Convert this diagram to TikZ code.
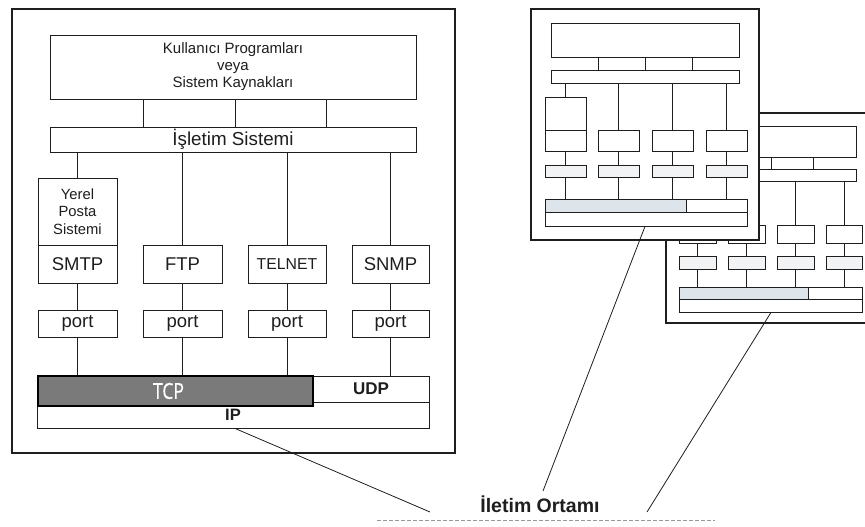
\documentclass[tikz,border=0pt]{standalone}
\usepackage{fontspec}
\setmainfont{Liberation Sans}
\newfontfamily\tcpfont[FakeBold=0.6]{Open Sans}
\definecolor{ink}{HTML}{1E1E1E}
\definecolor{lightfill}{HTML}{DDE4EA}
\definecolor{portfill}{HTML}{F1F3F5}
\definecolor{tcpgray}{HTML}{7A7A7A}
\begin{document}
\begin{tikzpicture}[x=1pt,y=-1pt,
  box/.style={draw=ink, line width=0.9pt, fill=white, inner sep=0pt, align=center, text=ink},
  sz/.style 2 args={minimum width=#1pt, minimum height=#2pt},
  wire/.style={draw=ink, line width=0.8pt},
  frame/.style={draw=ink, line width=1.5pt, fill=white, inner sep=0pt},
  big/.style={font=\fontsize{18.5}{20}\selectfont},
  mini/.style={box, line width=0.8pt},
]
\useasboundingbox (0,0) rectangle (865,527);
\clip (0,0) rectangle (865,527);
\fill[white] (0,0) rectangle (865,527);

% ---------- host on the left ----------
\node[frame, sz={443}{444}] (host) at (233.5,231) {};
\node[box, sz={366}{64}, font=\fontsize{15}{17}\selectfont] (kp) at (233,67)
  {Kullanıcı Programları\\veya\\Sistem Kaynakları};
\node[box, sz={366}{25}, font=\fontsize{18.8}{20}\selectfont] (os) at (233,139.5) {İşletim Sistemi};
\coordinate (k1) at (143,0);
\coordinate (k2) at (235,0);
\coordinate (k3) at (326,0);
\foreach \k in {k1,k2,k3} \draw[wire] (kp.south -| \k) -- (os.north -| \k);

\node[box, sz={79}{67}, font=\fontsize{14.8}{17.5}\selectfont] (yps) at (77.5,211.5) {Yerel\\Posta\\Sistemi};
\node[box, sz={79}{38}, big] (smtp) at (77.5,264) {SMTP};
\node[box, sz={79}{38}, big] (ftp) at (182.5,264) {FTP};
\node[box, sz={78}{38}, font=\fontsize{15.8}{18}\selectfont] (telnet) at (287,264) {TELNET};
\node[box, sz={77}{38}, big] (snmp) at (390.5,264) {SNMP};

\node[box, sz={79}{27}, big] (p1) at (77.5,323.5) {port};
\node[box, sz={79}{27}, big] (p2) at (182.5,323.5) {port};
\node[box, sz={78}{27}, big] (p3) at (287,323.5) {port};
\node[box, sz={77}{27}, big] (p4) at (390.5,323.5) {port};

\node[box, sz={392}{26}, font=\bfseries\fontsize{16.5}{18}\selectfont] (ip) at (233,415) {IP};
\node[box, sz={116}{26}, font=\bfseries\fontsize{17}{18}\selectfont] (udp) at (371,389) {UDP};
\node[box, sz={275}{30}, fill=tcpgray, draw=black, line width=1.6pt, text=white,
      font=\tcpfont\fontsize{22}{22}\selectfont] (tcp) at (175.5,391)
  {\scalebox{0.8}[1]{TCP}\hspace*{14pt}};

\draw[wire] (os.south -| yps.north) -- (yps.north);
\foreach \b in {ftp,telnet,snmp} \draw[wire] (os.south -| \b.north) -- (\b.north);
\draw[wire] (smtp.south) -- (p1.north);
\draw[wire] (ftp.south) -- (p2.north);
\draw[wire] (telnet.south) -- (p3.north);
\draw[wire] (snmp.south) -- (p4.north);
\foreach \p in {p1,p2,p3} \draw[wire] (\p.south) -- (tcp.north -| \p.south);
\draw[wire] (p4.south) -- (udp.north -| p4.south);

% ---------- host at the back, right ----------
\node[frame, sz={234}{210}] (bhost) at (783,218) {};
\node[mini, sz={188}{31}] (btop) at (762,141.5) {};
\node[mini, sz={188}{12}] (bos) at (762,175) {};
\coordinate (bk1) at (725,0);
\coordinate (bk2) at (771,0);
\coordinate (bk3) at (813,0);
\foreach \k in {bk1,bk2,bk3} \draw[wire] (btop.south -| \k) -- (bos.north -| \k);
\node[mini, sz={37}{30}] (by) at (697.5,210) {};
\node[mini, sz={37}{18}] (ba1) at (697.5,234) {};
\node[mini, sz={37}{18}] (ba2) at (746.5,234) {};
\node[mini, sz={37}{18}] (ba3) at (795.5,234) {};
\node[mini, sz={36}{18}] (ba4) at (844,234) {};
\node[mini, sz={37}{13}, fill=portfill] (bp1) at (697.5,262.5) {};
\node[mini, sz={37}{13}, fill=portfill] (bp2) at (746.5,262.5) {};
\node[mini, sz={37}{13}, fill=portfill] (bp3) at (795.5,262.5) {};
\node[mini, sz={36}{13}, fill=portfill] (bp4) at (844,262.5) {};
\node[mini, sz={183}{13}] (bip) at (770.5,305.5) {};
\node[mini, sz={129}{12}, fill=lightfill] (btcp) at (743.5,293) {};
\node[mini, sz={54}{12}] (budp) at (835,293) {};
\draw[wire] (bos.south -| by.north) -- (by.north);
\foreach \b in {ba2,ba3,ba4} \draw[wire] (bos.south -| \b.north) -- (\b.north);
\foreach \a/\p in {ba1/bp1,ba2/bp2,ba3/bp3,ba4/bp4} \draw[wire] (\a.south) -- (\p.north);
\foreach \p in {bp1,bp2,bp3} \draw[wire] (\p.south) -- (btcp.north -| \p.south);
\draw[wire] (bp4.south) -- (budp.north -| bp4.south);

% ---------- host in front, right ----------
\node[frame, line width=1.8pt, sz={228}{231}] (fhost) at (645,124.5) {};
\node[mini, sz={188}{34}] (ftop) at (645,40) {};
\node[mini, sz={188}{13}] (fos) at (645,76.5) {};
\coordinate (fk1) at (598,0);
\coordinate (fk2) at (645,0);
\coordinate (fk3) at (692,0);
\foreach \k in {fk1,fk2,fk3} \draw[wire] (ftop.south -| \k) -- (fos.north -| \k);
\node[mini, sz={41}{33}] (fy) at (565.5,113.5) {};
\node[mini, sz={41}{21}] (fa1) at (565.5,140.5) {};
\node[mini, sz={41}{21}] (fa2) at (618.5,140.5) {};
\node[mini, sz={41}{21}] (fa3) at (672.5,140.5) {};
\node[mini, sz={41}{21}] (fa4) at (726.5,140.5) {};
\node[mini, sz={41}{12}, fill=portfill] (fp1) at (565.5,171) {};
\node[mini, sz={41}{12}, fill=portfill] (fp2) at (618.5,171) {};
\node[mini, sz={41}{12}, fill=portfill] (fp3) at (672.5,171) {};
\node[mini, sz={41}{12}, fill=portfill] (fp4) at (726.5,171) {};
\node[mini, sz={202}{14}] (fip) at (646,219) {};
\node[mini, sz={141}{13}, fill=lightfill] (ftcp) at (615.5,205.5) {};
\node[mini, sz={61}{13}] (fudp) at (716.5,205.5) {};
\draw[wire] (fos.south -| fy.north) -- (fy.north);
\foreach \b in {fa2,fa3,fa4} \draw[wire] (fos.south -| \b.north) -- (\b.north);
\foreach \a/\p in {fa1/fp1,fa2/fp2,fa3/fp3,fa4/fp4} \draw[wire] (\a.south) -- (\p.north);
\foreach \p in {fp1,fp2,fp3} \draw[wire] (\p.south) -- (ftcp.north -| \p.south);
\draw[wire] (fp4.south) -- (fudp.north -| fp4.south);

% ---------- transmission medium ----------
\node[text=ink, font=\bfseries\fontsize{19.5}{21}\selectfont] (medium) at (540,504) {İletim Ortamı};
\coordinate (m1) at (430,512);
\coordinate (m2) at (543,491);
\coordinate (m3) at (647,512);
\coordinate (d1) at (377,520);
\coordinate (d2) at (715,520);
\coordinate (ipx) at (235,0);
\coordinate (fipx) at (645,0);
\coordinate (bipx) at (771,0);
\draw[wire] (ip.south -| ipx) -- (m1);
\draw[wire] (fip.south -| fipx) -- (m2);
\draw[wire] (bip.south -| bipx) -- (m3);
\draw[draw=black!40, line width=0.8pt, dash pattern=on 4pt off 2pt] (d1) -- (d2);
\end{tikzpicture}
\end{document}
